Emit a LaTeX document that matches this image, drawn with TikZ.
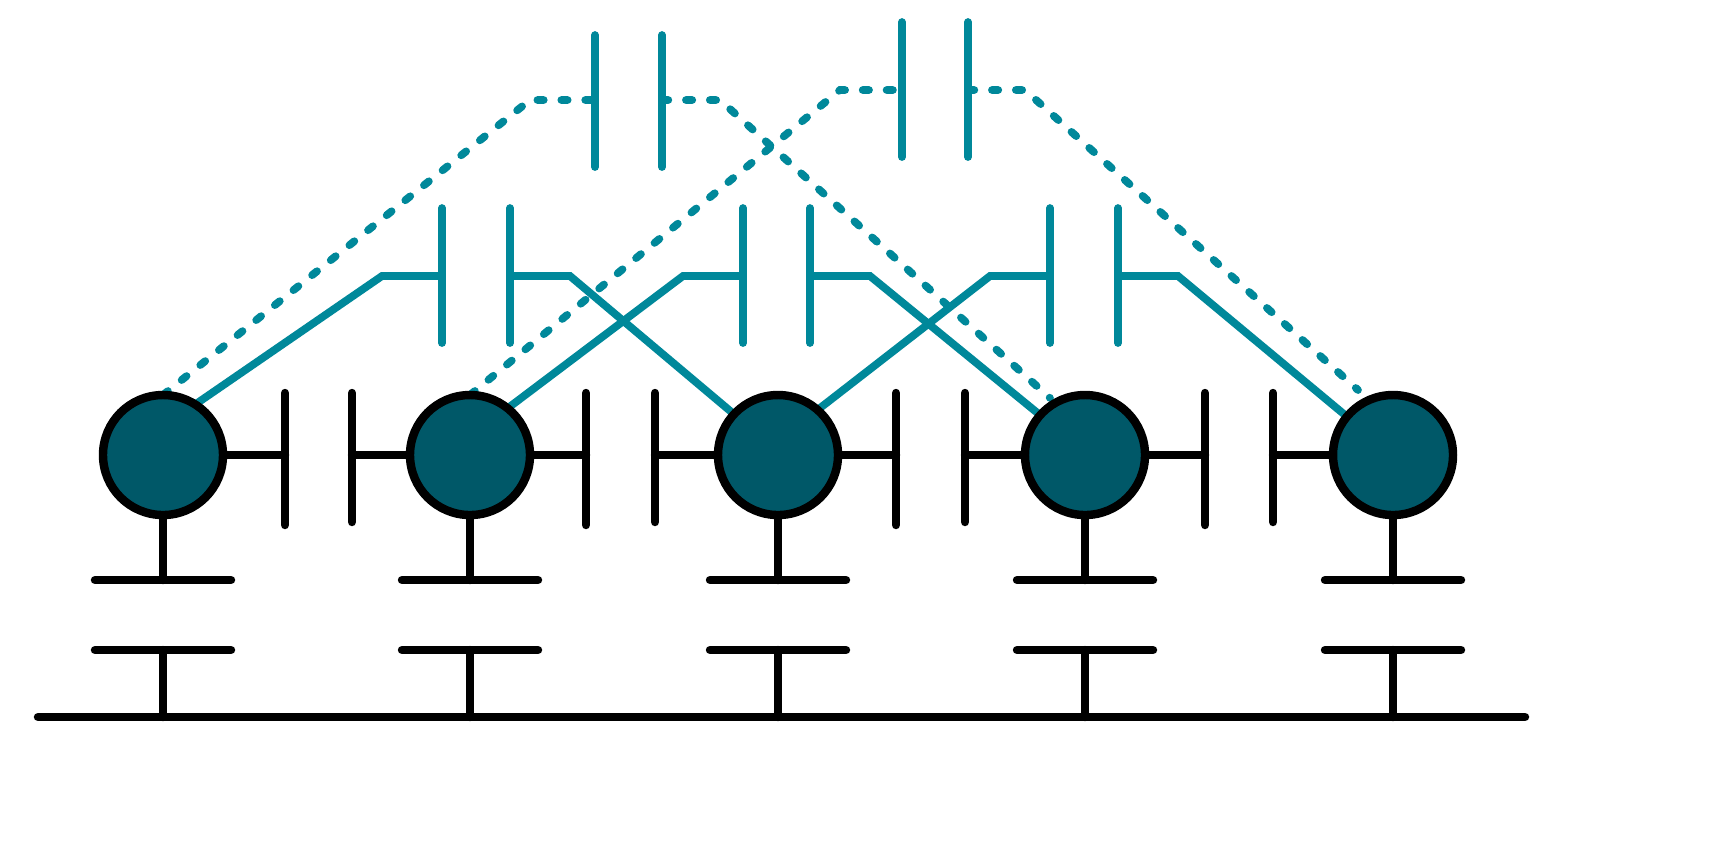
\documentclass[tikz,border=0pt]{standalone}
\begin{document}
\begin{tikzpicture}[x=0.01cm,y=-0.01cm,
  blk/.style={line width=2.4pt,black,line cap=round},
  tl/.style={line width=2.2pt,color={rgb,255:red,0;green,136;blue,154}},
  dsh/.style={tl,line cap=round,dash pattern=on 1.8pt off 5pt},
  site/.style={circle,draw=black,line width=2.4pt,fill={rgb,255:red,0;green,88;blue,104},minimum size=120*0.01cm,inner sep=0pt}]
\useasboundingbox (0,0) rectangle (1713,841);
% dashed third-neighbour couplings (behind)
\coordinate (d1a) at (163,395); \coordinate (d1b) at (530,100); \coordinate (d1c) at (595,100);
\coordinate (d1d) at (662,100); \coordinate (d1e) at (720,100); \coordinate (d1f) at (1050,398);
\draw[dsh] (d1a) -- (d1b) -- (d1c); \draw[dsh] (d1d) -- (d1e) -- (d1f);
\draw[tl,line cap=round] (595,35) -- (595,167); \draw[tl,line cap=round] (662,35) -- (662,167);
\coordinate (d2a) at (470,395); \coordinate (d2b) at (840,90); \coordinate (d2c) at (902,90);
\coordinate (d2d) at (968,90); \coordinate (d2e) at (1025,90); \coordinate (d2f) at (1358,390);
\draw[dsh] (d2a) -- (d2b) -- (d2c); \draw[dsh] (d2d) -- (d2e) -- (d2f);
\draw[tl,line cap=round] (902,22) -- (902,157); \draw[tl,line cap=round] (968,22) -- (968,157);
% solid second-neighbour couplings
\foreach \a/\b/\p/\q/\c/\d in {190/382/442/510/570/735, 508/683/743/810/870/1040, 820/990/1050/1118/1178/1345}{
  \draw[tl] (\a,408) -- (\b,276) -- (\p,276);
  \draw[tl] (\q,276) -- (\c,276) -- (\d,415);
  \draw[tl,line cap=round] (\p,208) -- (\p,343);
  \draw[tl,line cap=round] (\q,208) -- (\q,343);
}
% sites
\foreach \i/\x in {1/163,2/470,3/778,4/1085,5/1393}{
  \node[site] (s\i) at (\x,455) {};
  \draw[blk] (s\i.south) -- (\x,580);
  \draw[blk] (\x-68,580) -- (\x+68,580);
  \draw[blk] (\x-68,650) -- (\x+68,650);
  \draw[blk] (\x,650) -- (\x,717);
}
\draw[blk] (38,717) -- (1525,717);
% nearest-neighbour couplings
\foreach \l/\r/\pl/\pr in {1/2/285/352, 2/3/586/655, 3/4/896/965, 4/5/1205/1273}{
  \draw[blk] (s\l.east) -- (\pl,455);
  \draw[blk] (\pl,393) -- (\pl,525);
  \draw[blk] (\pr,393) -- (\pr,522);
  \draw[blk] (\pr,455) -- (s\r.west);
}
\end{tikzpicture}
\end{document}
